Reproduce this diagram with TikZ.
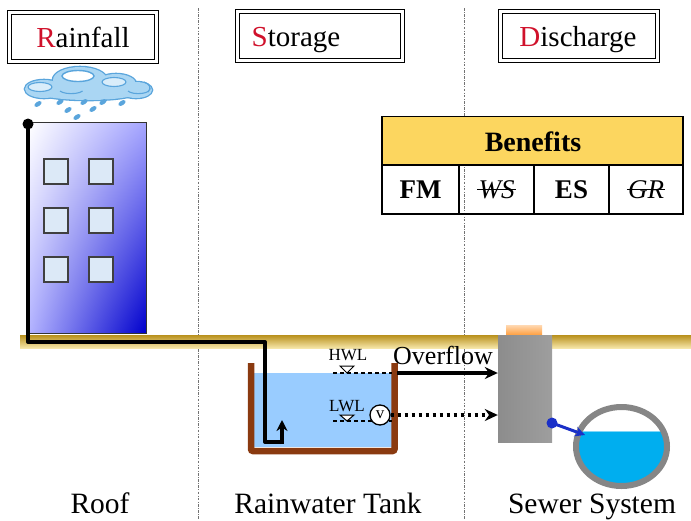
\documentclass[tikz,border=0pt]{standalone}
\usepackage{fontspec}
\setmainfont{Liberation Serif}
\usetikzlibrary{arrows.meta,calc,shadings}
\definecolor{initred}{HTML}{D0112B}
\definecolor{benefit}{HTML}{FCD65F}
\definecolor{cloudfill}{HTML}{AAD6F3}
\definecolor{cloudline}{HTML}{5AA5DC}
\definecolor{tankwall}{HTML}{8A3A10}
\definecolor{tankwater}{HTML}{99CCFF}
\definecolor{sewerwater}{HTML}{00AEEF}
\definecolor{pipering}{HTML}{868686}
\definecolor{valveblue}{HTML}{1A30C8}
\definecolor{winfill}{HTML}{DCE9F7}
\definecolor{groundtop}{HTML}{B8901C}
\definecolor{groundmid}{HTML}{E8C64A}
\definecolor{groundlow}{HTML}{F6E6A8}
\begin{document}
\begin{tikzpicture}[x=1pt,y=1pt,
  hdrbox/.style={draw=black, line width=1.4pt, double=white, double distance=2.2pt,
    minimum height=49pt, inner sep=0pt},
  hdrtext/.style={font=\fontsize{29}{32}\selectfont, inner sep=0pt, anchor=base},
  cell/.style={draw=black, line width=1.2pt, minimum height=49pt, inner sep=0pt},
  celltext/.style={font=\fontsize{27}{30}\selectfont\bfseries},
  cutcell/.style={font=\fontsize{27}{30}\selectfont\itshape, inner sep=0pt},
  caption/.style={font=\fontsize{29.5}{32}\selectfont, anchor=base},
  separator/.style={draw=black!55, line width=0.7pt, dash pattern=on 2.5pt off 1.5pt on 0.7pt off 1.5pt},
  pipe/.style={line width=4pt, line cap=round, line join=round},
  flow/.style={line width=3.4pt, -{Stealth[length=13pt,width=12pt]}},
  level/.style={line width=1.2pt, dash pattern=on 4pt off 3pt},
  window/.style={fill=winfill, draw=black!75, line width=1.6pt}
]
\useasboundingbox (0,0) rectangle (691,-520);

% column separators
\draw[separator] (198,-8) -- (198,-520);
\draw[separator] (464,-8) -- (464,-520);

% header boxes
\node[hdrbox, minimum width=147pt] (rainfall) at (83,-37) {};
\node[hdrtext] (rainfalltxt) at (83,-47) {\textcolor{initred}{R}ainfall};
\node[hdrbox, minimum width=165pt] (storage) at (320,-36) {};
\node[hdrtext] (storagetxt) at (296,-46) {\textcolor{initred}{S}torage};
\node[hdrbox, minimum width=157pt] (discharge) at (579,-36) {};
\node[hdrtext] (dischargetxt) at (578,-46) {\textcolor{initred}{D}ischarge};

% benefits table
\node[cell, fill=benefit, minimum width=301pt] (benefits) at (532.5,-141) {};
\node[celltext, font=\fontsize{28}{30}\selectfont\bfseries] (benefitstxt) at (533,-142) {Benefits};
\node[cell, minimum width=77pt] (fm) at (420.5,-189.5) {};
\node[cell, minimum width=75pt] (wscell) at (496.5,-189.5) {};
\node[cell, minimum width=75pt] (es) at (571.5,-189.5) {};
\node[cell, minimum width=74pt] (grcell) at (646,-189.5) {};
\node[celltext] at (fm) {FM};
\node[celltext] at (es) {ES};
\node[cutcell] (ws) at (wscell) {WS};
\node[cutcell] (gr) at (grcell) {GR};
\draw[line width=1pt] ([xshift=-1pt]ws.west) -- ([xshift=1pt]ws.east);
\draw[line width=1pt] ([xshift=-1pt]gr.west) -- ([xshift=1pt]gr.east);

% rain cloud
\begin{scope}
  \foreach \cx/\cy/\rx/\ry in {44/89/19/9, 80/80/27/13, 116/84/20/10, 136/90/16/8, 88/93/48/7}
    \draw[cloudline, line width=2.6pt] (\cx,-\cy) ellipse ({\rx pt} and {\ry pt});
  \foreach \cx/\cy/\rx/\ry in {44/89/19/9, 80/80/27/13, 116/84/20/10, 136/90/16/8, 88/93/48/7}
    \fill[cloudfill] (\cx,-\cy) ellipse ({\rx pt} and {\ry pt});
  \draw[cloudline, fill=white, line width=1.4pt] (78,-76) ellipse (16pt and 5.5pt);
  \draw[cloudline, fill=white!55!cloudfill, line width=1.1pt] (40,-87) ellipse (12pt and 4.5pt);
  \draw[cloudline, fill=white!55!cloudfill, line width=1.1pt] (114,-82) ellipse (12pt and 4.5pt);
  \draw[cloudline, line width=1.1pt] (128,-91) arc (200:340:11pt and 4pt);
  \draw[cloudline, line width=1.1pt] (60,-91) arc (200:340:12pt and 4pt);
  \draw[cloudline, line width=1.3pt] (144,-82) .. controls (150,-84) and (152,-88) .. (148,-92);
  \foreach \dx/\dy in {38/104, 60/102, 68/110, 77/117, 84/102, 93/109, 103/102, 122/103}
    \fill[cloudline, rotate around={35:(\dx,-\dy)}] (\dx,-\dy) ellipse (4pt and 2.3pt);
\end{scope}

% ground
\shade[top color=groundtop, middle color=groundmid, bottom color=groundlow]
  (20,-335) rectangle (691,-348);

% building
\shade[upper left=white, upper right=blue!35!white, lower left=blue!30!white, lower right=blue!80!black]
  (29,-122) rectangle (146,-333);
\draw[black!80, line width=1pt] (29,-122) rectangle (146,-333);
\foreach \wx in {44,89}
  \foreach \wy in {159,208,257}
    \draw[window] (\wx,-\wy) rectangle +(24,-25);

% rainwater tank
\fill[tankwater] (254,-373) rectangle (391.5,-447);
\draw[tankwall, line width=6.5pt, rounded corners=2pt] (251,-363) -- (251,-451) -- (394.5,-451) -- (394.5,-363);
\coordinate (tankhw) at (397,-373);

% water levels
\node[font=\fontsize{17}{19}\selectfont, inner sep=0pt] (hwl) at (348,-355) {HWL};
\draw[level] (333,-373) -- (392,-373);
\draw[fill=white, line width=1pt] (340,-366) -- (354,-366) -- (347,-373) -- cycle;
\node[font=\fontsize{17}{19}\selectfont, inner sep=0pt] (lwl) at (347,-406) {LWL};
\draw[level] (333,-421) -- (392,-421);
\draw[fill=white, line width=1pt] (340,-415) -- (354,-415) -- (347,-421) -- cycle;
\node[circle, draw=black, fill=white, line width=1.3pt, minimum size=20pt, inner sep=0pt,
  font=\fontsize{17}{17}\selectfont] (valve) at (380,-415) {v};

% sewer manhole column
\shade[top color=orange!30!white, bottom color=orange!80] (506,-325) rectangle (542,-336);
\node[minimum width=54pt, minimum height=107pt, inner sep=0pt,
  left color=black!45, middle color=black!12, right color=black!38] (column) at (525,-388.5) {};

% roof drain pipe
\fill (28,-124) circle (5.5pt);
\draw[pipe] (28,-124) -- (28,-342) -- (265,-342) -- (265,-442) -- (282,-442);
\draw[line width=4pt, -{Stealth[length=11pt,width=11pt]}] (282,-444) -- (282,-420);

% overflow and drain
\node[font=\fontsize{26}{28}\selectfont, inner sep=0pt] (overflow) at (443,-355) {Overflow};
\draw[flow] (tankhw) -- (column.west |- tankhw);
\draw[flow, dash pattern=on 3.5pt off 3.5pt] (valve.east) -- (column.west |- valve.east);

% sewer pipe
\coordinate (outlet) at (552,-423);
\begin{scope}
  \clip (621.5,-446.5) ellipse (43pt and 37pt);
  \fill[sewerwater] (570,-431) rectangle (676,-500);
  \draw[sewerwater!50!white, line width=1pt] (570,-431) -- (676,-431);
\end{scope}
\draw[pipering, line width=6pt] (621.5,-446.5) ellipse (45.5pt and 39.5pt);
\fill[valveblue] (outlet) circle (5.5pt);
\draw[valveblue, line width=3pt, -{Stealth[length=10pt,width=10pt]}] (outlet) -- (585,-435);

% captions
\node[caption] (roof) at (100,-513) {Roof};
\node[caption] (tank) at (328,-513) {Rainwater Tank};
\node[caption] (sewer) at (592,-513) {Sewer System};
\end{tikzpicture}
\end{document}
